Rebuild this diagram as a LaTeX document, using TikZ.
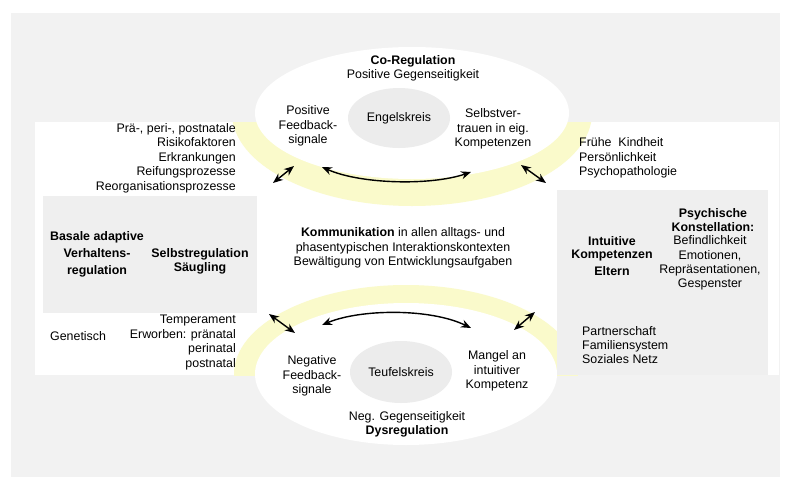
\documentclass[tikz,border=0pt]{standalone}
\usepackage{fontspec}
\setmainfont{Liberation Sans}
\usetikzlibrary{arrows.meta,shapes.geometric}
\definecolor{bggray}{HTML}{F2F2F2}
\definecolor{boxgray}{HTML}{EFEFEF}
\definecolor{ringyellow}{HTML}{FAFACB}
\definecolor{innergray}{HTML}{ECECEC}
\begin{document}
\begin{tikzpicture}[x=1pt,y=-1pt,
  txt/.style={inner sep=0pt, align=center, font=\fontsize{12.4}{14.4}\selectfont},
  btxt/.style={txt, font=\fontsize{12.4}{14.4}\selectfont\bfseries},
  kreis/.style={ellipse, fill=innergray, inner sep=0pt, txt},
  dbl/.style={{Stealth[length=10pt,width=8pt]}-{Stealth[length=10pt,width=8pt]}, line width=1.4pt, black}]
\useasboundingbox (0,0) rectangle (792,477);
\fill[white] (0,0) rectangle (792,477);
\fill[bggray] (11,13) rectangle (780,477);
\fill[white] (35,122) rectangle (779,375);
\begin{scope}
  \clip (35,122) rectangle (779,375);
  \fill[ringyellow] (412,113) ellipse [x radius=180, y radius=93];
  \fill[ringyellow] (406,374) ellipse [x radius=172, y radius=89];
\end{scope}
\fill[boxgray] (43,196) rectangle (257,313);
\fill[boxgray] (557,190) rectangle (768,375);
\fill[white] (412,113) ellipse [x radius=157, y radius=66];
\fill[white] (406,374) ellipse [x radius=151, y radius=71];

% inner circles
\node[kreis, minimum width=102pt, minimum height=60pt] (engel) at (399,118) {Engelskreis};
\node[kreis, minimum width=102pt, minimum height=62pt] (teufel) at (401,372) {Teufelskreis};

% top ellipse texts
\node[btxt] (coreg) at (413,61) {Co-Regulation};
\node[txt] (posgeg) at (413,75) {Positive Gegenseitigkeit};
\node[txt] (posfb) at (308,126) {Positive\\Feedback-\\signale};
\node[txt] (selbst) at (493,129) {Selbstver-\\trauen in eig.\\Kompetenzen};

% bottom ellipse texts
\node[txt] (negfb) at (312,376) {Negative\\Feedback-\\signale};
\node[txt] (mangel) at (497,371) {Mangel an\\intuitiver\\Kompetenz};
\node[txt] (neggeg) at (407,417) {Neg. Gegenseitigkeit};
\node[btxt] (dysreg) at (407,431) {Dysregulation};

% center
\node[txt] (komm) at (403,248) {\textbf{Kommunikation} in allen alltags- und\\phasentypischen Interaktionskontexten\\Bewältigung von Entwicklungsaufgaben};

% left
\node[txt, align=right, anchor=east] (risk) at (236,158) {Prä-, peri-, postnatale\\Risikofaktoren\\Erkrankungen\\Reifungsprozesse\\Reorganisationsprozesse};
\node[btxt, font=\fontsize{12.4}{17}\selectfont\bfseries] (basal) at (97,254) {Basale adaptive\\Verhaltens-\\regulation};
\node[btxt, font=\fontsize{12.4}{13.5}\selectfont\bfseries] (selbstreg) at (200,261.5) {Selbstregulation\\Säugling};
\node[txt, anchor=west] (genet) at (50,336) {Genetisch};
\node[txt, align=right, anchor=east] (temper) at (236,342.5) {Temperament\\Erworben: pränatal\\perinatal\\postnatal};

% right
\node[txt, align=left, anchor=west] (frueh) at (579,158) {Frühe\ \ Kindheit\\Persönlichkeit\\Psychopathologie};
\node[btxt] (psych) at (713,220) {Psychische\\Konstellation:};
\node[txt] (befind) at (710,263) {Befindlichkeit\\Emotionen,\\Repräsentationen,\\Gespenster};
\node[btxt, font=\fontsize{12.4}{13.5}\selectfont\bfseries] (intuit) at (612,256) {Intuitive\\Kompetenzen\\[3pt]Eltern};
\node[txt, align=left, anchor=west] (partner) at (582,345) {Partnerschaft\\Familiensystem\\Soziales Netz};

% arrow end points
\coordinate (ta1) at (322,167);
\coordinate (ta2) at (471,172);
\coordinate (ba1) at (322,325);
\coordinate (ba2) at (471,328);
\coordinate (tl1) at (273,183);
\coordinate (tl2) at (294,166);
\coordinate (tr1) at (521,165);
\coordinate (tr2) at (546,183);
\coordinate (bl1) at (269,314);
\coordinate (bl2) at (295,333);
\coordinate (br1) at (514,330);
\coordinate (br2) at (535,312);

\draw[dbl] (ta1) .. controls (360,184) and (430,186) .. (ta2);
\draw[dbl] (ba1) .. controls (360,309) and (430,308) .. (ba2);
\draw[dbl] (tl1) -- (tl2);
\draw[dbl] (tr1) -- (tr2);
\draw[dbl] (bl1) -- (bl2);
\draw[dbl] (br1) -- (br2);
\end{tikzpicture}
\end{document}
